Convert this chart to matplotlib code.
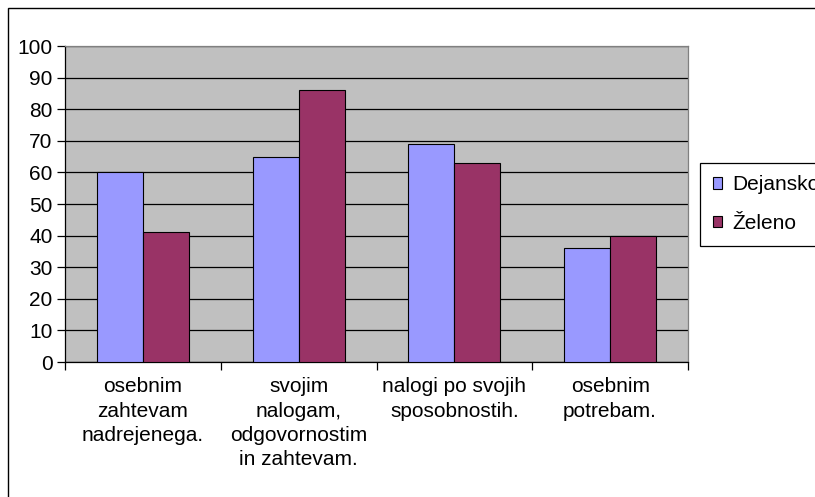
import matplotlib
matplotlib.use('Agg')
import matplotlib.pyplot as plt
from matplotlib.patches import Rectangle
import numpy as np

plt.rcParams['font.family'] = ['Liberation Sans', 'DejaVu Sans']

# podatki
kategorije = ['osebnim\nzahtevam\nnadrejenega.',
              'svojim\nnalogam,\nodgovornostim\nin zahtevam.',
              'nalogi po svojih\nsposobnostih.',
              'osebnim\npotrebam.']
dejansko = [60, 65, 69, 36]
zeleno = [41, 86, 63, 40]
serije = ['Dejansko', 'Želeno']

fig = plt.figure(figsize=(8.15, 4.97), dpi=100)
ax = fig.add_axes([65/815, 1-362/497, (688-65)/815, (362-46)/497])

x = np.arange(len(kategorije))
w = 0.295
ax.bar(x - w/2, dejansko, w, color='#9999FF', edgecolor='black', linewidth=0.8, label=serije[0], zorder=3)
ax.bar(x + w/2, zeleno, w, color='#993366', edgecolor='black', linewidth=0.8, label=serije[1], zorder=3)

ax.set_facecolor('#C0C0C0')
ax.set_xlim(-0.5, len(kategorije) - 0.5)
ax.set_ylim(0, 100)
ax.set_yticks(range(0, 101, 10))
ax.yaxis.grid(True, color='black', linewidth=0.9, zorder=1)
ax.set_axisbelow(True)
ax.tick_params(axis='y', direction='out', length=6, width=0.9, labelsize=15, pad=3)

ax.set_xticks(np.arange(-0.5, len(kategorije), 1))
ax.set_xticklabels([])
ax.tick_params(axis='x', which='major', direction='out', length=6, width=0.9)
ax.set_xticks(x, minor=True)
ax.set_xticklabels(kategorije, minor=True, fontsize=15, linespacing=1.36, va='top')
ax.tick_params(axis='x', which='minor', length=0, pad=11)

for s in ['left', 'bottom']:
    ax.spines[s].set_color('black')
    ax.spines[s].set_linewidth(0.9)
for s in ['top', 'right']:
    ax.spines[s].set_color('#808080')
    ax.spines[s].set_linewidth(0.9)

leg = fig.legend(loc='upper left', bbox_to_anchor=(700/815, 1-163/497), fontsize=15,
                 frameon=True, fancybox=False, edgecolor='black', framealpha=1,
                 handlelength=0.45, handleheight=0.45, handletextpad=0.5,
                 borderpad=0.6, labelspacing=0.95, borderaxespad=0)
leg.get_frame().set_linewidth(0.9)

fig.patches.append(Rectangle((8/815, -0.01), 1.0, 1-8/497 + 0.01, transform=fig.transFigure,
                             fill=False, edgecolor='black', linewidth=1))

fig.savefig('out.png', dpi=100)
